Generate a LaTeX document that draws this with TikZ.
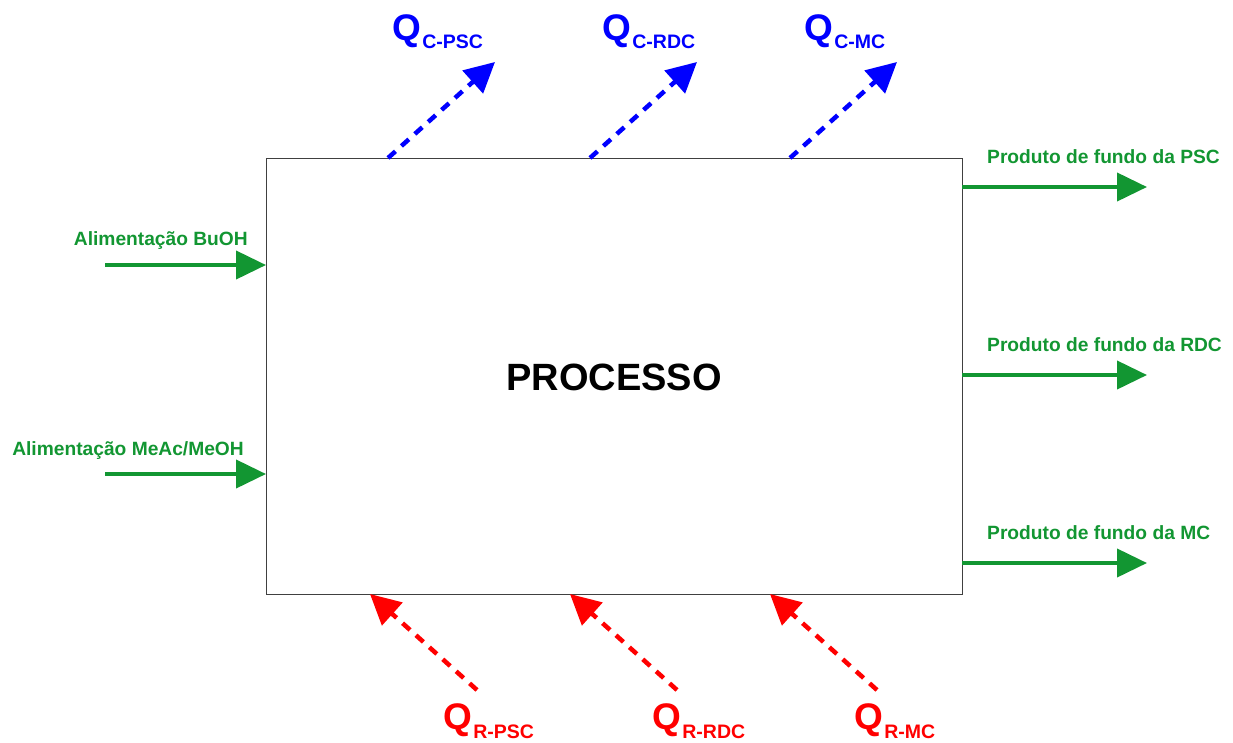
\documentclass[tikz,border=0pt]{standalone}
\usepackage{fontspec}
\setmainfont{Liberation Sans}
\usetikzlibrary{arrows.meta,calc}
\definecolor{flowgreen}{RGB}{18,150,50}
\definecolor{heatblue}{RGB}{0,0,255}
\definecolor{heatred}{RGB}{255,0,0}
\tikzset{
  flow/.style={draw=flowgreen, line width=4pt, -{Triangle[length=30pt,width=28pt]}},
  coolarrow/.style={draw=heatblue, line width=4.5pt, dash pattern=on 10pt off 8pt, -{Triangle[length=30pt,width=30pt]}},
  heatarrow/.style={draw=heatred, line width=4.5pt, dash pattern=on 10pt off 8pt, -{Triangle[length=30pt,width=30pt]}},
  flowlabel/.style={text=flowgreen, font=\bfseries\fontsize{19.2}{21}\selectfont, inner sep=0pt},
  qlabel/.style={font=\bfseries\fontsize{37}{38}\selectfont, inner sep=0pt, anchor=base west},
  qsub/.style={font=\bfseries\fontsize{19.5}{20}\selectfont, inner sep=0pt, anchor=base west},
}
\begin{document}
\begin{tikzpicture}[x=1pt,y=-1pt]
\useasboundingbox (0,0) rectangle (1233,742);
\node[draw=black!75, line width=0.8pt, minimum width=696pt, minimum height=436pt, inner sep=0pt] (box) at (614,376) {};
\node[font=\bfseries\fontsize{38}{40}\selectfont, inner sep=0pt, anchor=base] (proc) at (614,390) {PROCESSO};
% inputs
\coordinate (inA) at (105,265);
\coordinate (inB) at (105,474);
\coordinate (boxA) at (266,265);
\coordinate (boxB) at (266,474);
\draw[flow] (inA) -- (boxA);
\draw[flow] (inB) -- (boxB);
\node[flowlabel, anchor=base east] (labA) at (248,245) {Alimentação BuOH};
\node[flowlabel, anchor=base east] (labB) at (244,455) {Alimentação MeAc/MeOH};
% outputs
\coordinate (boxP) at (962,187);
\coordinate (boxR) at (962,375);
\coordinate (boxM) at (962,563);
\coordinate (outP) at (1147,187);
\coordinate (outR) at (1147,375);
\coordinate (outM) at (1147,563);
\draw[flow] (boxP) -- (outP);
\draw[flow] (boxR) -- (outR);
\draw[flow] (boxM) -- (outM);
\node[flowlabel, anchor=base west] (labP) at (987,163) {Produto de fundo da PSC};
\node[flowlabel, anchor=base west] (labR) at (987,351) {Produto de fundo da RDC};
\node[flowlabel, anchor=base west] (labM) at (987,539) {Produto de fundo da MC};
% condenser heat
\coordinate (c1s) at (388,158);
\coordinate (c2s) at (590,158);
\coordinate (c3s) at (790,158);
\coordinate (c1e) at (495,62);
\coordinate (c2e) at (697,62);
\coordinate (c3e) at (897,62);
\draw[coolarrow] (c1s) -- (c1e);
\draw[coolarrow] (c2s) -- (c2e);
\draw[coolarrow] (c3s) -- (c3e);
\node[qlabel, text=heatblue] (qc1) at (392,40) {Q};
\node[qsub, text=heatblue] (qc1s) at ($(qc1.base east)+(1,8)$) {C-PSC};
\node[qlabel, text=heatblue] (qc2) at (602,40) {Q};
\node[qsub, text=heatblue] (qc2s) at ($(qc2.base east)+(1,8)$) {C-RDC};
\node[qlabel, text=heatblue] (qc3) at (804,40) {Q};
\node[qsub, text=heatblue] (qc3s) at ($(qc3.base east)+(1,8)$) {C-MC};
% reboiler heat
\coordinate (r1s) at (477,690);
\coordinate (r2s) at (677,690);
\coordinate (r3s) at (877,690);
\coordinate (r1e) at (370,594);
\coordinate (r2e) at (570,594);
\coordinate (r3e) at (770,594);
\draw[heatarrow] (r1s) -- (r1e);
\draw[heatarrow] (r2s) -- (r2e);
\draw[heatarrow] (r3s) -- (r3e);
\node[qlabel, text=heatred] (qr1) at (443,729) {Q};
\node[qsub, text=heatred] (qr1s) at ($(qr1.base east)+(1,9)$) {R-PSC};
\node[qlabel, text=heatred] (qr2) at (652,729) {Q};
\node[qsub, text=heatred] (qr2s) at ($(qr2.base east)+(1,9)$) {R-RDC};
\node[qlabel, text=heatred] (qr3) at (854,729) {Q};
\node[qsub, text=heatred] (qr3s) at ($(qr3.base east)+(1,9)$) {R-MC};
\end{tikzpicture}
\end{document}
